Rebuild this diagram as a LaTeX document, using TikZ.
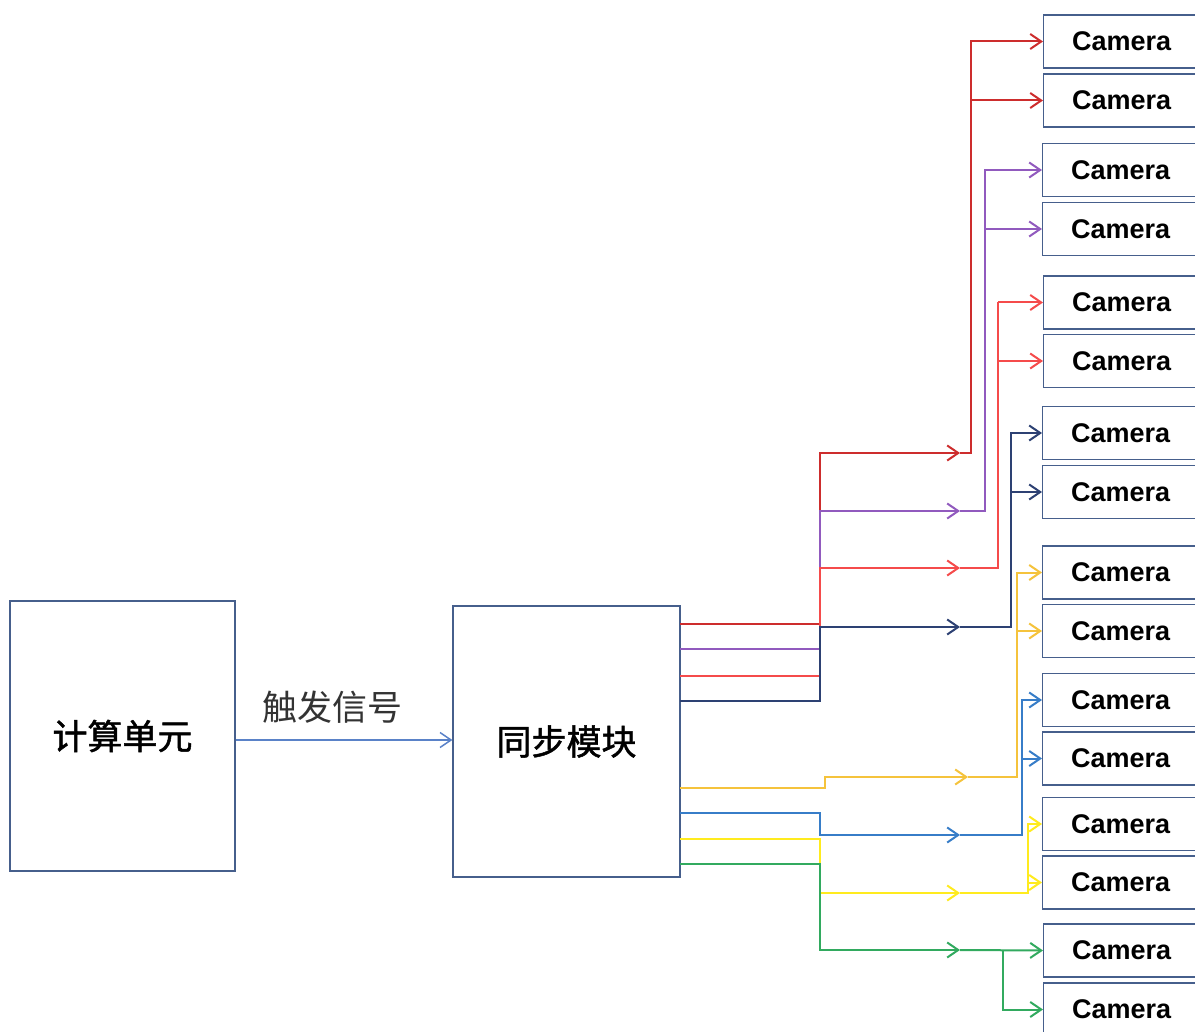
\documentclass[tikz,border=0pt]{standalone}
\usepackage{fontspec}
\setmainfont{Liberation Sans}
\newfontfamily\cjk{Noto Sans CJK SC}
\newfontfamily\cjkb[FakeBold=1.4]{Noto Sans CJK SC}
\usetikzlibrary{arrows.meta}
\definecolor{boxc}{RGB}{70,95,140}
\definecolor{sigc}{RGB}{90,130,200}
\definecolor{redA}{RGB}{205,45,45}
\definecolor{purp}{RGB}{145,90,190}
\definecolor{redB}{RGB}{245,75,75}
\definecolor{navy}{RGB}{45,65,115}
\definecolor{gold}{RGB}{245,195,60}
\definecolor{blu}{RGB}{55,125,200}
\definecolor{yel}{RGB}{255,235,30}
\definecolor{grn}{RGB}{50,170,95}
\begin{document}
\begin{tikzpicture}[x=1pt,y=-1pt,
  >={Straight Barb[length=11pt,width=15pt]},
  wire/.style={line width=2pt},
  cam/.style={draw=boxc,line width=1.3pt,minimum width=156pt,minimum height=53pt,inner sep=0pt,anchor=west,
    font=\fontsize{27}{30}\selectfont\bfseries},
  bigbox/.style={draw=boxc,line width=1.3pt,inner sep=0pt,font=\cjkb\fontsize{35}{40}\selectfont},
  lab/.style={font=\cjk\fontsize{35}{40}\selectfont,text=black!80}]
\clip (0,0) rectangle (1195,1032);
\useasboundingbox (0,0) rectangle (1195,1032);
\fill[white] (0,0) rectangle (1195,1032);

% main boxes
\node[bigbox,minimum width=225pt,minimum height=270pt] (comp) at (122.5,736) {计算单元};
\node[bigbox,minimum width=227pt,minimum height=271pt] (sync) at (566.5,741.5) {同步模块};
\draw[sigc,line width=1.5pt,->] ([yshift=-4pt]comp.east) -- ([yshift=-4pt]comp.east -| sync.west);
\node[lab] (trig) at (332,707) {触发信号};

% cameras
\node[cam] (c1) at (1043,41.5) {Camera};
\node[cam] (c2) at (1043,100.5) {Camera};
\node[cam] (c3) at (1042,170) {Camera};
\node[cam] (c4) at (1042,229) {Camera};
\node[cam] (c5) at (1043,302.5) {Camera};
\node[cam] (c6) at (1043,361) {Camera};
\node[cam] (c7) at (1042,433) {Camera};
\node[cam] (c8) at (1042,492) {Camera};
\node[cam] (c9) at (1042,572.5) {Camera};
\node[cam] (c10) at (1042,631) {Camera};
\node[cam] (c11) at (1042,700) {Camera};
\node[cam] (c12) at (1042,758.5) {Camera};
\node[cam] (c13) at (1042,824) {Camera};
\node[cam] (c14) at (1042,882.5) {Camera};
\node[cam] (c15) at (1043,950.5) {Camera};
\node[cam] (c16) at (1043,1009.5) {Camera};

% start points on sync module
\coordinate (s1) at (680,624);
\coordinate (s2) at (680,649);
\coordinate (s3) at (680,676);
\coordinate (s4) at (680,701);
\coordinate (s5) at (680,788);
\coordinate (s6) at (680,813);
\coordinate (s7) at (680,839);
\coordinate (s8) at (680,864);
% middle arrow tips
\coordinate (m1) at (960,453);
\coordinate (m2) at (960,511);
\coordinate (m3) at (960,568);
\coordinate (m4) at (960,627);
\coordinate (m5) at (968,777);
\coordinate (m6) at (960,835);
\coordinate (m7) at (960,893);
\coordinate (m8) at (960,950);
% bus corners
\coordinate (b1) at (971,453);
\coordinate (b2) at (985,511);
\coordinate (b3) at (998,568);
\coordinate (b4) at (1011,627);
\coordinate (b5) at (1017,777);
\coordinate (b6) at (1022,835);
\coordinate (b7) at (1028,893);
\coordinate (b8) at (1003,950);

% red 1
\draw[wire,redA,->] (s1) -- (820,624) |- (m1);
\draw[wire,redA,->] (m1) -- (b1) |- (c1.west);
\draw[wire,redA,->] (b1 |- c2.west) -- (c2.west);
% purple
\draw[wire,purp,->] (s2) -- (820,649) |- (m2);
\draw[wire,purp,->] (m2) -- (b2) |- (c3.west);
\draw[wire,purp,->] (b2 |- c4.west) -- (c4.west);
% red 2
\draw[wire,redB,->] (s3) -- (820,676) |- (m3);
\draw[wire,redB,line width=2.6pt] (m3) -- (b3) -- (b3 |- c5.west);
\draw[wire,redB,->] (b3 |- c5.west) -- (c5.west);
\draw[wire,redB,->] (b3 |- c6.west) -- (c6.west);
% navy
\draw[wire,navy,->] (s4) -- (820,701) |- (m4);
\draw[wire,navy,->] (m4) -- (b4) |- (c7.west);
\draw[wire,navy,->] (b4 |- c8.west) -- (c8.west);
% gold
\draw[wire,gold,->] (s5) -- (825,788) -- (825,777) -- (m5);
\draw[wire,gold,->] (m5) -- (b5) |- (c9.west);
\draw[wire,gold,->] (b5 |- c10.west) -- (c10.west);
% blue
\draw[wire,blu,->] (s6) -- (820,813) |- (m6);
\draw[wire,blu,->] (m6) -- (b6) |- (c11.west);
\draw[wire,blu,->] (b6 |- c12.west) -- (c12.west);
% yellow
\draw[wire,yel,->] (s7) -- (820,839) |- (m7);
\draw[wire,yel,->] (m7) -- (b7) |- (c13.west);
\draw[wire,yel,->] (b7 |- c14.west) -- (c14.west);
% green
\draw[wire,grn,->] (s8) -- (820,864) |- (m8);
\draw[wire,grn,->] (m8) -- (c15.west);
\draw[wire,grn,->] (b8) |- (c16.west);
\end{tikzpicture}
\end{document}
